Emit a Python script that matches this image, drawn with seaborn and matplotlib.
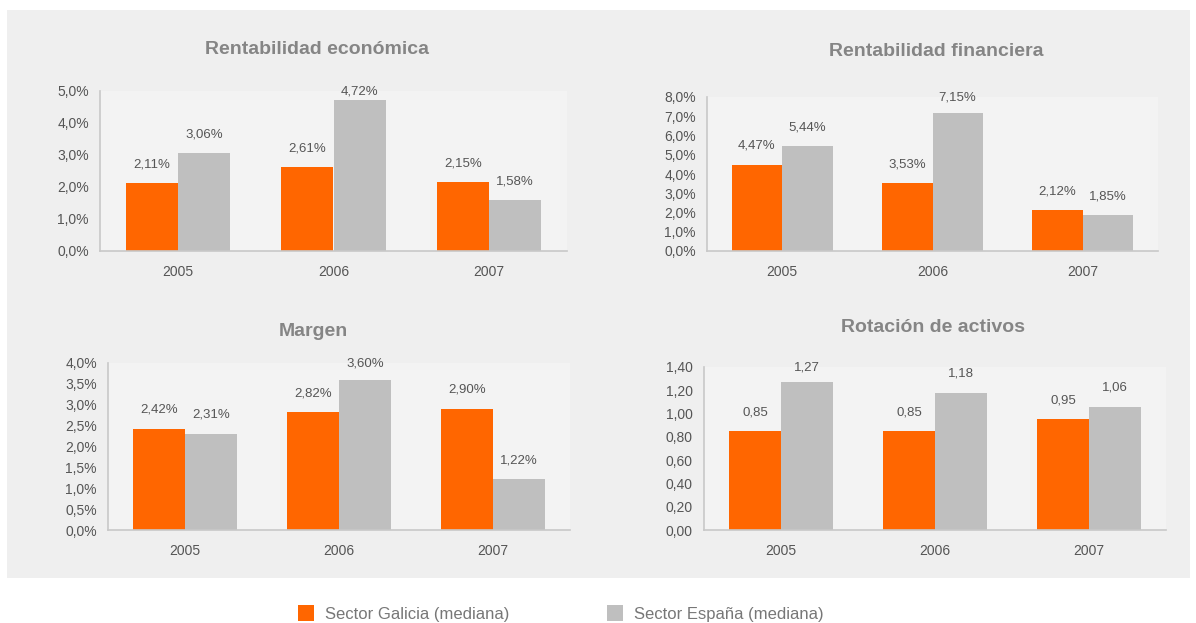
import pandas as pd
import matplotlib
matplotlib.use("Agg")
import matplotlib.pyplot as plt
from matplotlib.patches import Rectangle
from matplotlib.ticker import FuncFormatter, FixedLocator
import seaborn as sns

years = ["2005", "2006", "2007"]
series = ["Sector Galicia (mediana)", "Sector España (mediana)"]

rent_eco_galicia = [2.11, 2.61, 2.15]
rent_eco_espana = [3.06, 4.72, 1.58]
rent_fin_galicia = [4.47, 3.53, 2.12]
rent_fin_espana = [5.44, 7.15, 1.85]
margen_galicia = [2.42, 2.82, 2.90]
margen_espana = [2.31, 3.60, 1.22]
rotacion_galicia = [0.85, 0.85, 0.95]
rotacion_espana = [1.27, 1.18, 1.06]

ORANGE = "#ff6600"
GREY = "#bfbfbf"
TEXT = "#555555"
AXIS = "#c8c8c8"

sns.set_theme(style="white")
plt.rcParams["font.family"] = ["Liberation Sans", "DejaVu Sans"]

W, H = 1196, 623
fig = plt.figure(figsize=(W / 100, H / 100), dpi=100)
fig.patch.set_facecolor("white")
fig.patches.append(Rectangle((7 / W, 1 - 578 / H), (1190 - 7) / W, (578 - 10) / H,
                             transform=fig.transFigure, facecolor="#efefef",
                             edgecolor="none", zorder=-10))


def long_df(galicia, espana):
    return pd.DataFrame({
        "year": years * 2,
        "value": list(galicia) + list(espana),
        "serie": [series[0]] * 3 + [series[1]] * 3,
    })


def comma(v, dec):
    return f"{v:.{dec}f}".replace(".", ",")


def panel(px, title, galicia, espana, ymax, ystep, tick_dec, pct, title_xy):
    x0, y0, x1, y1 = px
    ax = fig.add_axes([x0 / W, 1 - y1 / H, (x1 - x0) / W, (y1 - y0) / H])
    ax.set_facecolor("#f3f3f3")
    df = long_df(galicia, espana)
    sns.barplot(data=df, x="year", y="value", hue="serie", hue_order=series,
                palette=[ORANGE, GREY], width=0.67, saturation=1, ax=ax,
                legend=False, errorbar=None, linewidth=0)
    ax.set_ylim(0, ymax)
    ax.set_xlim(-0.5, 2.5)
    n = int(round(ymax / ystep))
    ax.set_yticks([i * ystep for i in range(n + 1)])
    suffix = "%" if pct else ""
    ax.yaxis.set_major_formatter(FuncFormatter(lambda v, p: comma(v, tick_dec) + suffix))
    ax.xaxis.set_minor_locator(FixedLocator([-0.5, 0.5, 1.5, 2.5]))
    ax.tick_params(axis="x", which="major", length=0, pad=10, labelsize=10, labelcolor=TEXT)
    ax.tick_params(axis="x", which="minor", length=6, width=1, color=AXIS, direction="out")
    ax.tick_params(axis="y", which="major", length=5, width=1, color=AXIS, direction="out",
                   pad=3, labelsize=10, labelcolor=TEXT)
    for s in ["top", "right"]:
        ax.spines[s].set_visible(False)
    for s in ["left", "bottom"]:
        ax.spines[s].set_color(AXIS)
        ax.spines[s].set_linewidth(1.2)
    ax.set_xlabel("")
    ax.set_ylabel("")
    # data units per pixel, labels sit ~19px above the bar but stay inside the plot area
    dpp = ymax / (y1 - y0)
    for bar in ax.patches:
        h = bar.get_height()
        if h <= 0:
            continue
        ly = min(h + 19 * dpp, ymax - 1 * dpp)
        ax.text(bar.get_x() + bar.get_width() / 2, ly, comma(h, 2) + suffix,
                ha="center", va="center", fontsize=9.5, color=TEXT, clip_on=False)
    tx, ty = title_xy
    fig.text(tx / W, 1 - ty / H, title, ha="center", va="center",
             fontsize=14, color="#858585", fontweight="bold")
    return ax


panel((100, 91, 567, 251), "Rentabilidad económica", rent_eco_galicia, rent_eco_espana,
      5.0, 1.0, 1, True, (317, 49))
panel((707, 97, 1158, 251), "Rentabilidad financiera", rent_fin_galicia, rent_fin_espana,
      8.0, 1.0, 1, True, (936, 52))
panel((108, 363, 570, 530), "Margen", margen_galicia, margen_espana,
      4.0, 0.5, 1, True, (313, 332))
panel((704, 367, 1166, 530), "Rotación de activos", rotacion_galicia, rotacion_espana,
      1.40, 0.20, 2, False, (933, 327))

# legend
for (sx, color, label) in [(298, ORANGE, series[0]), (607, GREY, series[1])]:
    fig.patches.append(Rectangle((sx / W, 1 - 621 / H), 16 / W, 16 / H,
                                 transform=fig.transFigure, facecolor=color,
                                 edgecolor="none"))
    fig.text((sx + 27) / W, 1 - 615 / H, label, ha="left", va="center",
             fontsize=12, color="#777777")

fig.savefig("out.png", dpi=100, facecolor="white")
